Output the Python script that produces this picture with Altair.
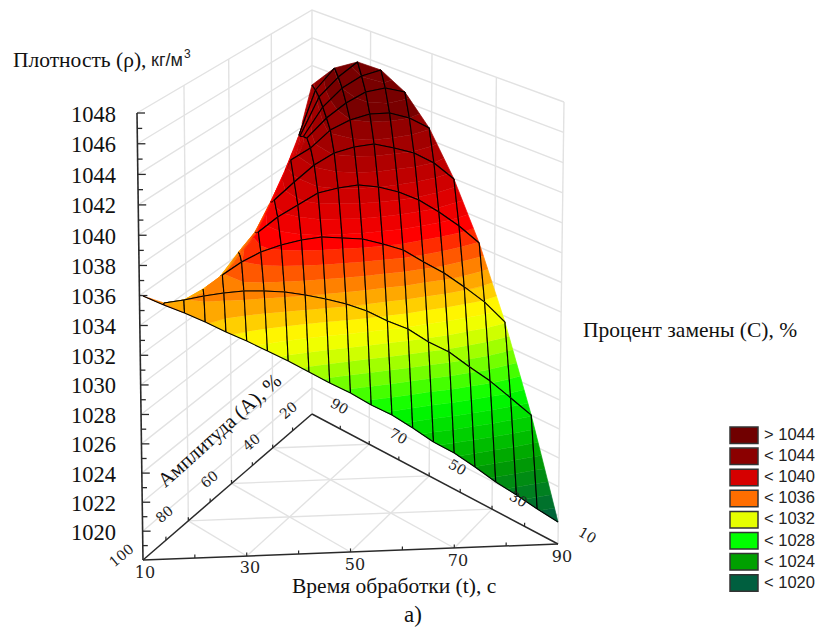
import altair as alt
import pandas as pd

# Density (kg/m3) on the ternary mesh, row by row from the front edge to the back corner
row0 = [1035.97, 1035.33, 1034.75, 1034.1, 1033.38, 1032.73, 1032.01, 1031.29, 1030.5, 1029.7, 1028.97, 1028.11, 1027.37, 1026.43, 1025.42, 1024.61, 1023.59, 1022.5, 1021.54, 1020.51, 1019.54]
row1 = [1034.61, 1034.77, 1035.0, 1035.15, 1035.25, 1035.2, 1035.09, 1034.84, 1034.53, 1034.14, 1033.62, 1032.89, 1032.3, 1031.36, 1030.63, 1029.55, 1028.53, 1027.31, 1026.07]
row2 = [1033.92, 1034.63, 1035.54, 1036.38, 1037.02, 1037.46, 1037.75, 1037.91, 1037.8, 1037.69, 1037.31, 1036.86, 1035.99, 1035.19, 1034.19, 1033.1, 1031.67]
row3 = [1033.65, 1034.5, 1036.05, 1037.58, 1038.57, 1039.35, 1040.13, 1040.43, 1040.59, 1040.42, 1040.03, 1039.44, 1038.58, 1037.57, 1036.35]
row4 = [1033.88, 1035.37, 1036.72, 1038.96, 1040.16, 1041.29, 1042.08, 1042.45, 1042.62, 1042.3, 1041.92, 1041.19, 1040.04]
row5 = [1034.62, 1035.98, 1038.04, 1040.93, 1041.72, 1042.93, 1043.59, 1043.96, 1043.99, 1043.61, 1042.88]
row6 = [1035.18, 1037.27, 1039.48, 1041.68, 1043.05, 1044.06, 1044.79, 1045.03, 1044.71]
row7 = [1036.49, 1038.73, 1041.07, 1043.11, 1044.41, 1045.22, 1045.6]
row8 = [1037.97, 1040.35, 1043.12, 1044.5, 1045.53]
row9 = [1039.71, 1042.92, 1044.46]
row10 = [1042.59]
ROWS = [row0, row1, row2, row3, row4, row5, row6, row7, row8, row9, row10]

legend_labels = ["> 1044", "< 1044", "< 1040", "< 1036", "< 1032", "< 1028", "< 1024", "< 1020"]
legend_colors = ["#700000", "#8b0000", "#d60000", "#ff6e00", "#e6ff00", "#00ff00", "#00a000", "#005f3f"]
color_levels = [1018, 1020, 1024, 1028, 1032, 1033, 1036, 1038, 1040, 1044, 1044.01, 1050]
color_stops = ["#005040", "#005f3f", "#00a000", "#00ff00", "#e6ff00", "#ffff00", "#ff6e00", "#ff0000", "#d60000", "#8b0000", "#7a0000", "#700000"]
density_ticks = list(range(1020, 1050, 2))
time_ticks = [10, 30, 50, 70, 90]
ampl_ticks = [100, 80, 60, 40, 20]
repl_ticks = [10, 30, 50, 70, 90]

# ---- 3D projection of the ternary prism ----
L, R, B = (143, 560), (558, 544), (312, 414)
HL, HR, HB = 447, 442, 404
SERIF = "Liberation Serif"
SANS = "Liberation Sans"
ARCH_START = {2: 4, 3: 6, 4: 7, 5: 8, 6: 9, 7: 9, 8: 9, 9: 9}


def g(t):
    return t - 0.035 * t * (1 - t)


def eff(a, c, d):
    w = [a, c, 1.1 * d]
    s = sum(w)
    return [v / s for v in w]


def proj(a, c, d, z=1018.0, shift=True):
    e = eff(a, c, d)
    t = (z - 1018) / 30
    x = e[0] * L[0] + e[1] * R[0] + e[2] * B[0]
    if shift:
        x += t * (-6 * e[0] + 6 * e[1])
    y = e[0] * L[1] + e[1] * R[1] + e[2] * B[1] - (e[0] * HL + e[1] * HR + e[2] * HB) * g(t)
    return x, y


def vertex(j, i):
    b = j / 10
    n = 20 - 2 * j
    u = (i - j) / n if n else 0.5
    z = ROWS[j][i - j]
    x, y = proj((1 - b) * (1 - u), (1 - b) * u, b, z, shift=False)
    x += 28 * b * (1 - b) * max(0.0, 1 - 4 * u)
    return (x, y, z)


def band_color(v):
    def rgb(h):
        return [int(h[k:k + 2], 16) for k in (1, 3, 5)]
    for k in range(len(color_levels) - 1):
        if color_levels[k] <= v <= color_levels[k + 1]:
            f = (v - color_levels[k]) / (color_levels[k + 1] - color_levels[k])
            a, b = rgb(color_stops[k]), rgb(color_stops[k + 1])
            return "#%02x%02x%02x" % tuple(round(a[m] + (b[m] - a[m]) * f) for m in range(3))
    return color_stops[-1]


def clip(poly, level, keep_above):
    out = []
    n = len(poly)
    for k in range(n):
        p, q = poly[k], poly[(k + 1) % n]
        pin = p[2] >= level if keep_above else p[2] <= level
        qin = q[2] >= level if keep_above else q[2] <= level
        if pin:
            out.append(p)
        if pin != qin:
            f = (level - p[2]) / (q[2] - p[2])
            out.append((p[0] + (q[0] - p[0]) * f, p[1] + (q[1] - p[1]) * f, level))
    return out


# ---- surface: painter's order, back row first ----
surf = []
gid = 0


def add_path(pts, stroke, fill, width):
    global gid
    gid += 1
    for k, p in enumerate(pts):
        surf.append({"x": p[0], "y": p[1], "k": k, "id": gid, "s": stroke, "f": fill, "w": width})


STEP = 0.8
edges = [1018 + k * STEP for k in range(0, 40)]
WIRE = "#000000"


def add_cell(poly, wires):
    zs = [p[2] for p in poly]
    for lo in edges:
        hi = lo + STEP
        if hi <= min(zs) or lo >= max(zs):
            continue
        pp = clip(clip(poly, lo, True), hi, False)
        if len(pp) >= 3:
            col = band_color(hi)
            add_path(pp, col, col, 0.7)
    for a, b in wires:
        add_path([a, b], WIRE, "transparent", 1.1)


def arch(j, i):
    return i >= ARCH_START.get(j, 0)


for j in range(9, -1, -1):
    for i in range(j, 20 - j):
        if i == j:  # left end triangle
            v0, v1, v2 = vertex(j, i), vertex(j, i + 1), vertex(j + 1, i + 1)
            w = [(v1, v2)]
            if arch(j, i):
                w.append((v0, v1))
            add_cell([v0, v1, v2], w)
        elif i == 19 - j:  # right end triangle
            v0, v1, v2 = vertex(j, i), vertex(j, i + 1), vertex(j + 1, i)
            add_cell([v0, v1, v2], [(v0, v1), (v0, v2)])
        else:
            v0, v1, v2, v3 = vertex(j, i), vertex(j, i + 1), vertex(j + 1, i + 1), vertex(j + 1, i)
            w = [(v1, v2), (v3, v0)]
            if arch(j, i):
                w.append((v0, v1))
            if arch(j + 1, i):
                w.append((v2, v3))
            add_cell([v0, v1, v2, v3], w)

# ---- walls, floor, axes ----
frame = []
fid = 0


def add_line(pts, stroke, width):
    global fid
    fid += 1
    for k, p in enumerate(pts):
        frame.append({"x": p[0], "y": p[1], "k": k, "id": fid, "s": stroke, "w": width})


GRID = "#e2e2e2"
DARK = "#2a2a2a"
TOP = 1048
for z in density_ticks:
    add_line([proj(1, 0, 0, z), proj(0, 0, 1, z), proj(0, 1, 0, z)], GRID, 1.4)
for f in (0.25, 0.5, 0.75):
    add_line([proj(1 - f, 0, f), proj(1 - f, 0, f, TOP)], GRID, 1.4)
    add_line([proj(0, 1 - f, f), proj(0, 1 - f, f, TOP)], GRID, 1.4)
    add_line([proj(1 - f, 0, f), proj(0, 1 - f, f)], GRID, 1.4)
    add_line([proj(1 - f, f, 0), proj(0, f, 1 - f)], GRID, 1.4)
    add_line([proj(1 - f, f, 0), proj(1 - f, 0, f)], GRID, 1.4)
add_line([proj(0, 0, 1), proj(0, 0, 1, TOP)], GRID, 1.4)
add_line([proj(0, 1, 0), proj(0, 1, 0, TOP)], GRID, 1.4)
add_line([proj(1, 0, 0), proj(1, 0, 0, TOP)], DARK, 1.6)
add_line([proj(1, 0, 0), proj(0, 1, 0)], DARK, 1.5)
add_line([proj(1, 0, 0), proj(0, 0, 1)], DARK, 1.5)
add_line([proj(0, 0, 1), proj(0, 1, 0)], DARK, 1.5)
for z in range(1019, TOP + 1):
    x0, y0 = proj(1, 0, 0, z)
    add_line([(x0, y0), (x0 + (8 if z % 2 == 0 else 5), y0)], DARK, 1.3)
for k in range(1, 8):
    f = k / 8
    for a, c, d in ((1 - f, f, 0), (1 - f, 0, f), (0, 1 - f, f)):
        add_line([proj(a, c, d), proj(a, c, d, 1018.25)], DARK, 1.2)

# ---- texts ----
density_labels = [{"x": 116, "y": proj(1, 0, 0, z)[1] + 1.5, "t": str(z)} for z in density_ticks]

bottom_xy = [(145, 573), (250, 568), (355, 565), (458, 561), (562, 557)]
ampl_xy = [(122, 556), (165, 515), (210, 480), (252, 443), (289, 411)]
repl_xy = [(587, 536), (518, 500), (457, 468), (398, 437), (339, 407)]

tick_rows = []
for v, (x, y) in zip(time_ticks, bottom_xy):
    tick_rows.append({"x": x, "y": y, "t": str(v), "a": 0, "sz": 16})
for v, (x, y) in zip(ampl_ticks, ampl_xy):
    tick_rows.append({"x": x, "y": y, "t": str(v), "a": 320, "sz": 14})
for v, (x, y) in zip(repl_ticks, repl_xy):
    tick_rows.append({"x": x, "y": y, "t": str(v), "a": 30, "sz": 14})

titles_left = [
    {"x": 13, "y": 61, "t": "Плотность (ρ),", "a": 0, "sz": 21.5},
    {"x": 583, "y": 331, "t": "Процент замены (С), %", "a": 0, "sz": 21.5},
    {"x": 292, "y": 587, "t": "Время обработки (t), с", "a": 0, "sz": 21.5},
]
titles_center = [
    {"x": 220, "y": 431, "t": "Амплитуда (А), %", "a": 318, "sz": 20.5},
    {"x": 413, "y": 615, "t": "а)", "a": 0, "sz": 23},
]
sans_titles = [
    {"x": 151, "y": 61, "t": "кг/м", "sz": 18},
    {"x": 184, "y": 54, "t": "3", "sz": 12},
]
legend_rows = []
for n, (lab, col) in enumerate(zip(legend_labels, legend_colors)):
    top = 427 + n * 21.1
    legend_rows.append({"x": 730, "x2": 758, "y": top, "y2": top + 16.5, "tx": 764,
                        "ty": top + 8, "t": lab, "c": col})

xs = alt.Scale(domain=[8, 815], nice=False, zero=False)
ys = alt.Scale(domain=[627, 8], nice=False, zero=False)
X = alt.X("x:Q", scale=xs, axis=None)
Y = alt.Y("y:Q", scale=ys, axis=None)

frame_layer = alt.Chart(pd.DataFrame(frame)).mark_line(strokeCap="butt").encode(
    x=X, y=Y, order="k:Q", detail="id:N",
    stroke=alt.Stroke("s:N", scale=None),
    strokeWidth=alt.StrokeWidth("w:Q", scale=None),
)

surface_layer = alt.Chart(pd.DataFrame(surf)).mark_line(strokeJoin="round").encode(
    x=X, y=Y, order="k:Q", detail="id:N",
    stroke=alt.Stroke("s:N", scale=None),
    fill=alt.Fill("f:N", scale=None),
    strokeWidth=alt.StrokeWidth("w:Q", scale=None),
)

density_text = alt.Chart(pd.DataFrame(density_labels)).mark_text(
    font=SERIF, fontSize=22.5, align="right", baseline="middle", color="#111111"
).encode(x=X, y=Y, text="t:N")

tick_text = alt.Chart(pd.DataFrame(tick_rows)).mark_text(
    font="DejaVu Serif", align="center", baseline="middle", color="#222222"
).encode(x=X, y=Y, text="t:N", angle=alt.Angle("a:Q", scale=None), size=alt.Size("sz:Q", scale=None))

title_left = alt.Chart(pd.DataFrame(titles_left)).mark_text(
    font=SERIF, baseline="middle", color="#111111", align="left"
).encode(x=X, y=Y, text="t:N", angle=alt.Angle("a:Q", scale=None), size=alt.Size("sz:Q", scale=None))
title_center = alt.Chart(pd.DataFrame(titles_center)).mark_text(
    font=SERIF, baseline="middle", color="#111111", align="center"
).encode(x=X, y=Y, text="t:N", angle=alt.Angle("a:Q", scale=None), size=alt.Size("sz:Q", scale=None))

sans_text = alt.Chart(pd.DataFrame(sans_titles)).mark_text(
    font=SANS, align="left", baseline="middle", color="#222222"
).encode(x=X, y=Y, text="t:N", size=alt.Size("sz:Q", scale=None))

leg_df = pd.DataFrame(legend_rows)
legend_rect = alt.Chart(leg_df).mark_rect(stroke="#333333", strokeWidth=1.5).encode(
    x=X, x2="x2:Q", y=Y, y2="y2:Q", fill=alt.Fill("c:N", scale=None),
)
legend_text = alt.Chart(leg_df).mark_text(
    font=SANS, fontSize=16.5, align="left", baseline="middle", color="#222222"
).encode(
    x=alt.X("tx:Q", scale=xs, axis=None),
    y=alt.Y("ty:Q", scale=ys, axis=None),
    text="t:N",
)

chart = alt.layer(
    frame_layer, surface_layer, density_text, tick_text, title_left, title_center,
    sans_text, legend_rect, legend_text,
).properties(
    width=807, height=619, padding=0,
    autosize=alt.AutoSizeParams(type="none"),
).configure_view(stroke=None)

chart.save("out.html", embed_options={"renderer": "svg", "actions": False})
